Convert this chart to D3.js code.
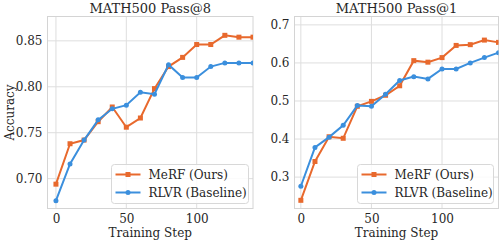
<!DOCTYPE html>
<html>
<head>
<meta charset="utf-8">
<script src="https://cdn.jsdelivr.net/npm/d3@7"></script>
<style>
  body { margin: 0; background: #fff; }
  text { font-family: "DejaVu Serif", serif; fill: #262626; }
</style>
</head>
<body>
<svg id="chart" width="503" height="243"></svg>
<script>
// training steps shared by both panels
var steps = [0, 10, 20, 30, 40, 50, 60, 70, 80, 90, 100, 110, 120, 130, 140];

// MATH500 Pass@8
var pass8Merf = [0.694, 0.738, 0.742, 0.762, 0.778, 0.756, 0.766, 0.798, 0.822, 0.832, 0.846, 0.846, 0.856, 0.854, 0.854];
var pass8Rlvr = [0.676, 0.716, 0.742, 0.764, 0.776, 0.780, 0.794, 0.792, 0.824, 0.810, 0.810, 0.822, 0.826, 0.826, 0.826];
var pass8Ticks = [0.70, 0.75, 0.80, 0.85];

// MATH500 Pass@1
var pass1Merf = [0.239, 0.341, 0.406, 0.402, 0.486, 0.499, 0.515, 0.540, 0.606, 0.602, 0.614, 0.646, 0.648, 0.660, 0.654];
var pass1Rlvr = [0.276, 0.378, 0.405, 0.436, 0.488, 0.486, 0.518, 0.554, 0.564, 0.558, 0.584, 0.584, 0.600, 0.614, 0.627];
var pass1Ticks = [0.3, 0.4, 0.5, 0.6, 0.7];

var xTicks = [0, 50, 100];
var seriesNames = ["MeRF (Ours)", "RLVR (Baseline)"];
var colors = ["#e8692d", "#3b8fdd"];

var svg = d3.select("#chart");

function drawPanel(p) {
  var x = d3.scaleLinear().domain(p.xDomain).range([p.left, p.right]);
  var y = d3.scaleLinear().domain(p.yDomain).range([p.bottom, p.top]);

  var g = svg.append("g");
  var clipId = "clip-" + p.id;
  svg.append("defs").append("clipPath").attr("id", clipId)
    .append("rect")
      .attr("x", p.left).attr("y", p.top - 4)
      .attr("width", p.right - p.left).attr("height", p.bottom - p.top + 8);

  // grid
  g.selectAll(".gx").data(xTicks).enter().append("line")
    .attr("x1", function(d) { return x(d); }).attr("x2", function(d) { return x(d); })
    .attr("y1", p.top).attr("y2", p.bottom)
    .style("stroke", "#dedede").style("stroke-width", 1);
  g.selectAll(".gy").data(p.yTicks).enter().append("line")
    .attr("x1", p.left).attr("x2", p.right)
    .attr("y1", function(d) { return y(d); }).attr("y2", function(d) { return y(d); })
    .style("stroke", "#dedede").style("stroke-width", 1);

  // frame
  g.append("rect")
    .attr("x", p.left).attr("y", p.top)
    .attr("width", p.right - p.left).attr("height", p.bottom - p.top)
    .style("fill", "none").style("stroke", "#d4d4d4").style("stroke-width", 1);

  // axes (labels only, matplotlib-like)
  var xAxis = g.append("g").attr("transform", "translate(0," + p.bottom + ")")
    .call(d3.axisBottom(x).tickValues(xTicks).tickSize(0).tickPadding(6).tickFormat(d3.format("d")));
  var yAxis = g.append("g").attr("transform", "translate(" + p.left + ",0)")
    .call(d3.axisLeft(y).tickValues(p.yTicks).tickSize(0).tickPadding(5).tickFormat(d3.format(p.fmt)));
  [xAxis, yAxis].forEach(function(a) {
    a.select(".domain").remove();
    a.selectAll("text").style("font-family", "DejaVu Serif, serif").style("font-size", "12px").style("fill", "#262626");
  });

  // lines
  var line = d3.line().x(function(d) { return x(d[0]); }).y(function(d) { return y(d[1]); });
  var plot = g.append("g").attr("clip-path", "url(#" + clipId + ")");
  p.series.forEach(function(vals, i) {
    var pts = steps.map(function(s, j) { return [s, vals[j]]; });
    plot.append("path").datum(pts).attr("d", line)
      .style("fill", "none").style("stroke", colors[i]).style("stroke-width", 2);
    if (i == 0) {
      plot.selectAll(".m" + i).data(pts).enter().append("rect")
        .attr("x", function(d) { return x(d[0]) - 2.5; }).attr("y", function(d) { return y(d[1]) - 2.5; })
        .attr("width", 5).attr("height", 5).style("fill", colors[i]);
    } else {
      plot.selectAll(".m" + i).data(pts).enter().append("circle")
        .attr("cx", function(d) { return x(d[0]); }).attr("cy", function(d) { return y(d[1]); })
        .attr("r", 2.5).style("fill", colors[i]);
    }
  });

  // title and axis labels
  g.append("text").attr("x", (p.left + p.right) / 2).attr("y", 13)
    .attr("text-anchor", "middle").style("font-size", "13px").text(p.title);
  g.append("text").attr("x", (p.left + p.right) / 2).attr("y", 237)
    .attr("text-anchor", "middle").style("font-size", "12px").text("Training Step");
  if (p.ylabel) {
    g.append("text").attr("transform", "translate(14," + ((p.top + p.bottom) / 2) + ") rotate(-90)")
      .attr("text-anchor", "middle").style("font-size", "12px").text(p.ylabel);
  }

  // legend
  var lg = g.append("g").attr("transform", "translate(" + p.legendX + ",164.5)");
  lg.append("rect").attr("width", p.legendW).attr("height", 39).attr("rx", 3)
    .style("fill", "rgba(255,255,255,0.85)").style("stroke", "#d8d8d8").style("stroke-width", 1);
  seriesNames.forEach(function(name, i) {
    var yy = 10 + i * 18;
    lg.append("line").attr("x1", 4).attr("x2", 29).attr("y1", yy).attr("y2", yy)
      .style("stroke", colors[i]).style("stroke-width", 2);
    if (i == 0) {
      lg.append("rect").attr("x", 14).attr("y", yy - 2.5).attr("width", 5).attr("height", 5).style("fill", colors[i]);
    } else {
      lg.append("circle").attr("cx", 16.5).attr("cy", yy).attr("r", 2.5).style("fill", colors[i]);
    }
    lg.append("text").attr("x", 37).attr("y", yy + 4).style("font-size", "12px").text(name);
  });
}

drawPanel({
  id: "p8", title: "MATH500 Pass@8", ylabel: "Accuracy",
  left: 47.5, right: 253, top: 16.5, bottom: 208.5,
  xDomain: [-6, 140], yDomain: [0.6675, 0.8765],
  yTicks: pass8Ticks, fmt: ".2f",
  series: [pass8Merf, pass8Rlvr],
  legendX: 111.5, legendW: 137
});

drawPanel({
  id: "p1", title: "MATH500 Pass@1", ylabel: null,
  left: 294.5, right: 498.5, top: 16.5, bottom: 208.5,
  xDomain: [-4.5, 140], yDomain: [0.2175, 0.722],
  yTicks: pass1Ticks, fmt: ".1f",
  series: [pass1Merf, pass1Rlvr],
  legendX: 357.5, legendW: 136
});
</script>
</body>
</html>
